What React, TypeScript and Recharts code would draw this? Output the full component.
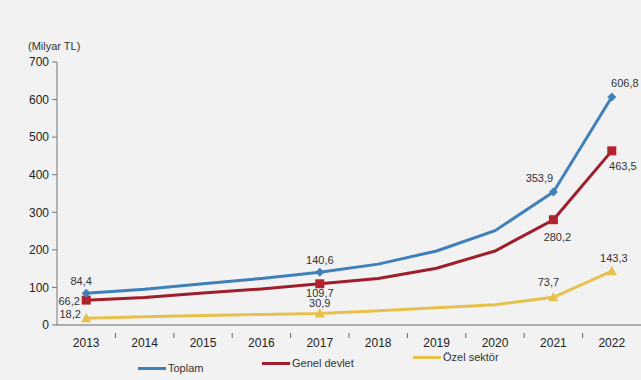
import React from 'react';
import { LineChart, Line, XAxis, YAxis, LabelList } from 'recharts';

const years = ['2013', '2014', '2015', '2016', '2017', '2018', '2019', '2020', '2021', '2022'];
const genelDevlet = [66.2, 73, 85, 96, 109.7, 124, 151, 197, 280.2, 463.5];
const ozelSektor = [18.2, 22, 25, 28, 30.9, 38, 46, 54, 73.7, 143.3];
const toplam = [84.4, 95, 110, 124, 140.6, 162, 197, 251, 353.9, 606.8];
const yTicks = [0, 100, 200, 300, 400, 500, 600, 700];
const labeledIdx = [0, 4, 8, 9];

const data = years.map((year, i) => ({
  year,
  toplam: toplam[i],
  genel: genelDevlet[i],
  ozel: ozelSektor[i],
}));

const BLUE = '#3f80bb';
const RED = '#9e1f2b';
const YELLOW = '#e7c14c';

const W = 641;
const H = 380;
const Y_AXIS_W = 57;
const band = (W - Y_AXIS_W) / years.length;

const fmt = (v: number) => v.toFixed(1).replace('.', ',');

// label offsets per point index
const offsets: Record<string, Record<number, [number, number]>> = {
  toplam: { 0: [-5, -12], 4: [0, -12], 8: [-14, -14], 9: [13, -14] },
  genel: { 0: [-17, 1], 4: [0, 9], 8: [4, 17], 9: [11, 15] },
  ozel: { 0: [-16, -4], 4: [0, -10], 8: [-5, -15], 9: [2, -13] },
};

const makeLabel = (key: string) => (props: any) => {
  const { x, y, value, index } = props;
  const off = offsets[key][index];
  if (!off) return null;
  return (
    <text
      x={x + off[0]}
      y={y + off[1]}
      textAnchor="middle"
      dominantBaseline="central"
      fontSize={11}
      fill="#333"
      fontFamily="Liberation Sans, Arial, sans-serif"
    >
      {fmt(value)}
    </text>
  );
};

const makeDot = (shape: 'diamond' | 'square' | 'triangle', color: string) => (props: any) => {
  const { cx, cy, index } = props;
  if (!labeledIdx.includes(index)) return <g key={index} />;
  if (shape === 'diamond') {
    const s = 4.5;
    return (
      <path key={index} d={`M${cx},${cy - s}L${cx + s},${cy}L${cx},${cy + s}L${cx - s},${cy}Z`} fill={color} />
    );
  }
  if (shape === 'square') {
    return <rect key={index} x={cx - 4.5} y={cy - 4.5} width={9} height={9} fill={color} />;
  }
  return (
    <path key={index} d={`M${cx},${cy - 5.5}L${cx + 5},${cy + 4}L${cx - 5},${cy + 4}Z`} fill={color} />
  );
};

const XTick = (props: any) => {
  const { x, y, payload, index } = props;
  return (
    <g>
      {index < years.length - 1 && (
        <line x1={x + band / 2} x2={x + band / 2} y1={y} y2={y + 5} stroke="#666" />
      )}
      <text
        x={x}
        y={y + 14}
        textAnchor="middle"
        fontSize={12}
        fill="#222"
        fontFamily="Liberation Sans, Arial, sans-serif"
      >
        {payload.value}
      </text>
    </g>
  );
};

const legendItems = [
  { name: 'Toplam', color: BLUE, left: 138, top: 362 },
  { name: 'Genel devlet', color: RED, left: 262, top: 357 },
  { name: 'Özel sektör', color: YELLOW, left: 413, top: 351 },
];

export default function App() {
  return (
    <div
      style={{
        position: 'absolute',
        left: 0,
        top: 0,
        width: W,
        height: H,
        background: '#f2f2f2',
        fontFamily: 'Liberation Sans, Arial, sans-serif',
        overflow: 'hidden',
      }}
    >
      <div style={{ position: 'absolute', left: 28, top: 40, fontSize: 11, color: '#333' }}>(Milyar TL)</div>
      <LineChart width={W} height={H} data={data} margin={{ top: 62, right: 0, left: 0, bottom: 25 }}>
        <XAxis
          dataKey="year"
          height={30}
          stroke="#666"
          tickLine={false}
          tick={<XTick />}
          interval={0}
          padding={{ left: band / 2, right: band / 2 }}
        />
        <YAxis
          width={Y_AXIS_W}
          domain={[0, 700]}
          ticks={yTicks}
          stroke="#777"
          tickSize={5}
          tickMargin={3}
          tick={{ fontSize: 12, fill: '#222', fontFamily: 'Liberation Sans, Arial, sans-serif' }}
          interval={0}
        />
        <Line
          dataKey="ozel"
          stroke={YELLOW}
          strokeWidth={3}
          dot={makeDot('triangle', YELLOW)}
          activeDot={false}
          isAnimationActive={false}
        >
          <LabelList dataKey="ozel" content={makeLabel('ozel')} />
        </Line>
        <Line
          dataKey="genel"
          stroke={RED}
          strokeWidth={3}
          dot={makeDot('square', '#b3232e')}
          activeDot={false}
          isAnimationActive={false}
        >
          <LabelList dataKey="genel" content={makeLabel('genel')} />
        </Line>
        <Line
          dataKey="toplam"
          stroke={BLUE}
          strokeWidth={3}
          dot={makeDot('diamond', BLUE)}
          activeDot={false}
          isAnimationActive={false}
        >
          <LabelList dataKey="toplam" content={makeLabel('toplam')} />
        </Line>
      </LineChart>
      {legendItems.map((item) => (
        <div
          key={item.name}
          style={{
            position: 'absolute',
            left: item.left,
            top: item.top,
            display: 'flex',
            alignItems: 'center',
            fontSize: 11,
            color: '#333',
          }}
        >
          <span style={{ display: 'inline-block', width: 28, height: 3, background: item.color, marginRight: 2 }} />
          {item.name}
        </div>
      ))}
    </div>
  );
}
